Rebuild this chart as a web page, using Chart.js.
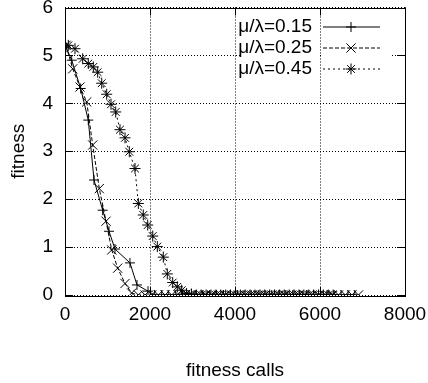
<!DOCTYPE html>
<html>
<head>
<meta charset="utf-8">
<script src="https://cdn.jsdelivr.net/npm/chart.js@4.4.0/dist/chart.umd.min.js"></script>
<style>
html, body { margin: 0; padding: 0; background: #fff; }
</style>
</head>
<body>
<canvas id="grafico" width="428" height="383"></canvas>
<script>
// series mu/lambda = 0.15 (+, solid)
var x015 = [23, 158, 369, 548, 682, 887, 1035, 1176, 1529, 1694, 1953,
  2110, 2275, 2430, 2595, 2760, 2915, 3080, 3245, 3410, 3565, 3730, 3895, 4060, 4215,
  4380, 4545, 4710, 4865, 5030, 5195, 5360, 5515, 5680, 5845, 6010, 6165, 6330, 6495, 6660, 6820];
var y015 = [5.17, 4.90, 4.31, 3.65, 2.40, 1.77, 1.33, 0.96, 0.67, 0.21, 0.08,
  0, 0, 0, 0, 0, 0, 0, 0, 0, 0, 0, 0, 0, 0,
  0, 0, 0, 0, 0, 0, 0, 0, 0, 0, 0, 0, 0, 0, 0, 0];

// series mu/lambda = 0.25 (x, dashed)
var x025 = [23, 181, 353, 511, 652, 807, 965, 1099, 1240, 1412, 1569,
  1725, 1885, 2040, 2195, 2355, 2510, 2670, 2825, 2980, 3140, 3295, 3455, 3610, 3765,
  3925, 4080, 4240, 4395, 4550, 4710, 4865, 5025, 5180, 5335, 5495, 5650, 5810, 5965,
  6120, 6280, 6435, 6595, 6750, 6905];
var y025 = [5.21, 4.72, 4.34, 4.03, 3.13, 2.22, 1.54, 0.94, 0.56, 0.24, 0.04,
  0, 0, 0, 0, 0, 0, 0, 0, 0, 0, 0, 0, 0, 0,
  0, 0, 0, 0, 0, 0, 0, 0, 0, 0, 0, 0, 0, 0,
  0, 0, 0, 0, 0, 0];

// series mu/lambda = 0.45 (*, dotted)
var x045 = [78, 235, 416, 548, 666, 769, 864, 981, 1082, 1193, 1294, 1412, 1513, 1647,
  1725, 1842, 1946, 2064, 2172, 2313, 2407, 2534, 2642, 2746,
  2860, 2975, 3090, 3205, 3320, 3435, 3550, 3665, 3780, 3895, 4010, 4125, 4240, 4355,
  4470, 4585, 4700, 4815, 4930, 5045, 5160, 5275, 5390, 5505, 5620, 5735, 5850, 5965,
  6080, 6195, 6310];
var y045 = [5.21, 5.14, 4.93, 4.83, 4.76, 4.65, 4.42, 4.19, 3.98, 3.82, 3.45, 3.28, 2.99, 2.64,
  1.91, 1.67, 1.46, 1.23, 1.01, 0.79, 0.44, 0.26, 0.17, 0.10,
  0.03, 0.02, 0, 0, 0, 0, 0, 0, 0, 0, 0, 0, 0, 0,
  0, 0, 0, 0, 0, 0, 0, 0, 0, 0, 0, 0, 0, 0,
  0, 0, 0];

var etiquetas = ['\u03bc/\u03bb=0.15', '\u03bc/\u03bb=0.25', '\u03bc/\u03bb=0.45'];
var xTicks = [0, 2000, 4000, 6000, 8000];
var yTicks = [0, 1, 2, 3, 4, 5, 6];

var fuente = 'Liberation Sans, Arial, Helvetica, sans-serif';

function puntos(xs, ys) {
  return xs.map(function (v, i) { return { x: v, y: ys[i] }; });
}

// marco, ticks hacia adentro y leyenda estilo gnuplot
const marco = {
  id: 'marco',
  beforeDatasetsDraw(chart) {
    const ctx = chart.ctx;
    const a = chart.chartArea;
    const sx = chart.scales.x, sy = chart.scales.y;
    ctx.save();
    // la caja de la leyenda tapa la linea horizontal de y=5
    const y5 = Math.round(sy.getPixelForValue(5));
    const x6 = Math.round(sx.getPixelForValue(6000));
    ctx.fillStyle = '#fff';
    ctx.fillRect(240, y5 - 1, x6 - 240, 3);
    ctx.fillRect(x6 + 1, y5 - 1, 392 - x6 - 1, 3);
    ctx.strokeStyle = '#000';
    ctx.lineWidth = 1;
    ctx.setLineDash([]);
    ctx.strokeRect(Math.round(a.left) + 0.5, Math.round(a.top) + 0.5,
      Math.round(a.right - a.left), Math.round(a.bottom - a.top));
    ctx.beginPath();
    xTicks.forEach(function (t) {
      const px = Math.round(sx.getPixelForValue(t)) + 0.5;
      ctx.moveTo(px, a.bottom); ctx.lineTo(px, a.bottom - 8);
      ctx.moveTo(px, a.top); ctx.lineTo(px, a.top + 8);
    });
    yTicks.forEach(function (t) {
      const py = Math.round(sy.getPixelForValue(t)) + 0.5;
      ctx.moveTo(a.left, py); ctx.lineTo(a.left + 8, py);
      ctx.moveTo(a.right, py); ctx.lineTo(a.right - 8, py);
    });
    ctx.stroke();
    ctx.restore();
  },
  afterDatasetsDraw(chart) {
    const ctx = chart.ctx;
    const a = chart.chartArea;
    ctx.save();
    ctx.font = '19px ' + fuente;
    ctx.fillStyle = '#000';
    ctx.textAlign = 'right';
    ctx.textBaseline = 'middle';
    chart.data.datasets.forEach(function (ds, i) {
      const y = a.top + 19 + 21 * i;
      ctx.fillText(ds.label, 312, y);
      ctx.strokeStyle = '#000';
      ctx.lineWidth = 1;
      ctx.setLineDash(ds.borderDash);
      ctx.beginPath();
      ctx.moveTo(323, y + 0.5);
      ctx.lineTo(380, y + 0.5);
      ctx.stroke();
      ctx.setLineDash([]);
      Chart.helpers.drawPoint(ctx, {
        pointStyle: ds.pointStyle, radius: ds.pointRadius, rotation: 0, borderWidth: 1
      }, 351, y + 0.5);
    });
    ctx.restore();
  }
};

const ctx = document.getElementById('grafico');
let grafico = new Chart(ctx, {
  type: 'scatter',
  data: {
    datasets: [{
      label: etiquetas[0],
      data: puntos(x015, y015),
      showLine: true,
      borderColor: '#000',
      backgroundColor: '#000',
      borderWidth: 1,
      borderDash: [],
      pointStyle: 'cross',
      pointRadius: 5,
      pointBorderWidth: 1,
      pointBorderColor: '#000'
    }, {
      label: etiquetas[1],
      data: puntos(x025, y025),
      showLine: true,
      borderColor: '#000',
      backgroundColor: '#000',
      borderWidth: 1,
      borderDash: [4, 2],
      pointStyle: 'crossRot',
      pointRadius: 6.5,
      pointBorderWidth: 1,
      pointBorderColor: '#000'
    }, {
      label: etiquetas[2],
      data: puntos(x045, y045),
      showLine: true,
      borderColor: '#000',
      backgroundColor: '#000',
      borderWidth: 1,
      borderDash: [2, 3],
      pointStyle: 'star',
      pointRadius: 5.5,
      pointBorderWidth: 1,
      pointBorderColor: '#000'
    }]
  },
  options: {
    responsive: false,
    animation: false,
    devicePixelRatio: 1,
    layout: { padding: { top: 7, right: 23, left: 0, bottom: 0 } },
    plugins: { legend: { display: false }, tooltip: { enabled: false } },
    scales: {
      x: {
        type: 'linear',
        min: 0, max: 8000,
        afterFit: function (s) { s.height = 88; s.paddingLeft = 0; s.paddingRight = 0; },
        afterBuildTicks: function (s) { s.ticks = xTicks.map(function (v) { return { value: v }; }); },
        ticks: {
          color: '#000', font: { family: fuente, size: 19 }, padding: 8, maxRotation: 0,
          callback: function (v) { return String(v); }
        },
        grid: { color: '#000', lineWidth: 1, drawTicks: false },
        border: { display: false, dash: [1, 2] },
        title: { display: true, text: 'fitness calls', color: '#000', font: { family: fuente, size: 19 }, padding: { top: 0, bottom: 1 } }
      },
      y: {
        min: 0, max: 6,
        afterFit: function (s) { s.width = 65; s.paddingTop = 0; s.paddingBottom = 0; },
        afterBuildTicks: function (s) { s.ticks = yTicks.map(function (v) { return { value: v }; }); },
        ticks: {
          color: '#000', font: { family: fuente, size: 19 }, padding: 12,
          callback: function (v) { return String(v); }
        },
        grid: { color: '#000', lineWidth: 1, drawTicks: false },
        border: { display: false, dash: [1, 2] },
        title: { display: true, text: 'fitness', color: '#000', font: { family: fuente, size: 19 }, padding: { top: 7, bottom: 0 } }
      }
    }
  },
  plugins: [marco]
});
</script>
</body>
</html>
